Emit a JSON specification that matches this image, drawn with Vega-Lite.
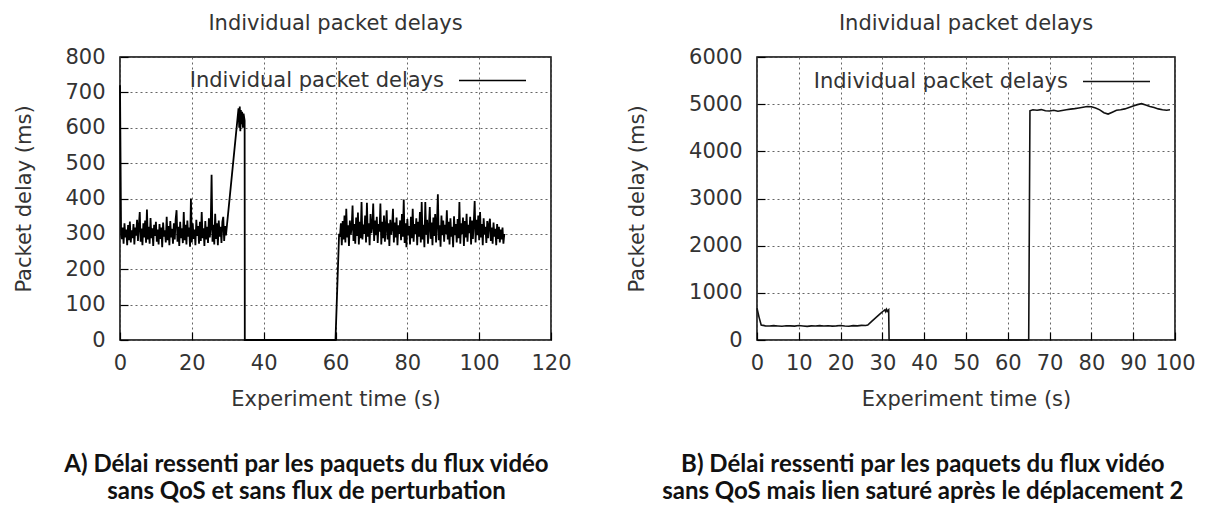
{
  "$schema": "https://vega.github.io/schema/vega-lite/v6.json",
  "background": "white",
  "padding": {"left": 13, "top": 12, "right": 5, "bottom": 5},
  "config": {
    "font": "DejaVu Sans",
    "view": {"stroke": "#000", "strokeWidth": 1.5},
    "axis": {
      "labelFontSize": 21, "titleFontSize": 21, "labelColor": "#333", "titleColor": "#333",
      "titleFontWeight": "normal", "grid": true, "gridDash": [2, 3], "gridColor": "#555",
      "gridOpacity": 0.9, "gridWidth": 1, "domain": false, "tickColor": "#000", "tickSize": -8, "tickWidth": 1.2,
      "labelOverlap": false, "labelFlush": false, "format": "d"
    },
    "axisX": {"labelPadding": 20, "titlePadding": 15},
    "axisY": {"labelPadding": 23, "titlePadding": 30},
    "title": {"fontSize": 21, "fontWeight": "normal", "color": "#333", "offset": 12},
    "concat": {"spacing": 53},
    "legend": {
      "orient": "none", "padding": 0, "labelFontSize": 21, "labelColor": "#333", "labelLimit": 0,
      "symbolType": "stroke", "symbolSize": 4489, "symbolStrokeWidth": 1.5, "labelAlign": "right", "labelOffset": -83
    }
  },
  "resolve": {"scale": {"color": "independent"}, "legend": {"color": "independent"}},
  "datasets": {
    "a": [
      {"t": 0, "d": 720}, {"t": 0.3, "d": 300},
      {"t": 0.5, "d": 285}, {"t": 0.75, "d": 318}, {"t": 1.0, "d": 272}, {"t": 1.25, "d": 330},
      {"t": 1.5, "d": 290}, {"t": 1.75, "d": 312}, {"t": 2.0, "d": 268}, {"t": 2.25, "d": 325},
      {"t": 2.5, "d": 282}, {"t": 2.75, "d": 335}, {"t": 3.0, "d": 276}, {"t": 3.25, "d": 310},
      {"t": 3.5, "d": 288}, {"t": 3.75, "d": 328}, {"t": 4.0, "d": 270}, {"t": 4.25, "d": 318},
      {"t": 4.5, "d": 295}, {"t": 4.75, "d": 340}, {"t": 5.0, "d": 280}, {"t": 5.25, "d": 322},
      {"t": 5.5, "d": 362}, {"t": 5.75, "d": 278}, {"t": 6.0, "d": 315}, {"t": 6.25, "d": 268},
      {"t": 6.5, "d": 330}, {"t": 6.75, "d": 290}, {"t": 7.0, "d": 338}, {"t": 7.25, "d": 275},
      {"t": 7.5, "d": 369}, {"t": 7.75, "d": 284}, {"t": 8.0, "d": 320}, {"t": 8.25, "d": 272},
      {"t": 8.5, "d": 345}, {"t": 8.75, "d": 288}, {"t": 9.0, "d": 316}, {"t": 9.25, "d": 266},
      {"t": 9.5, "d": 326}, {"t": 9.75, "d": 294}, {"t": 10.0, "d": 334}, {"t": 10.25, "d": 278},
      {"t": 10.5, "d": 312}, {"t": 10.75, "d": 270}, {"t": 11.0, "d": 328}, {"t": 11.25, "d": 286},
      {"t": 11.5, "d": 318}, {"t": 11.75, "d": 262}, {"t": 12.0, "d": 332}, {"t": 12.25, "d": 292},
      {"t": 12.5, "d": 310}, {"t": 12.75, "d": 276}, {"t": 13.0, "d": 348}, {"t": 13.25, "d": 282},
      {"t": 13.5, "d": 322}, {"t": 13.75, "d": 268}, {"t": 14.0, "d": 336}, {"t": 14.25, "d": 290},
      {"t": 14.5, "d": 314}, {"t": 14.75, "d": 272}, {"t": 15.0, "d": 330}, {"t": 15.25, "d": 284},
      {"t": 15.5, "d": 342}, {"t": 15.75, "d": 367}, {"t": 16.0, "d": 278}, {"t": 16.25, "d": 320},
      {"t": 16.5, "d": 266}, {"t": 16.75, "d": 334}, {"t": 17.0, "d": 288}, {"t": 17.25, "d": 316},
      {"t": 17.5, "d": 274}, {"t": 17.75, "d": 362}, {"t": 18.0, "d": 282}, {"t": 18.25, "d": 326},
      {"t": 18.5, "d": 270}, {"t": 18.75, "d": 338}, {"t": 19.0, "d": 292}, {"t": 19.25, "d": 318},
      {"t": 19.5, "d": 264}, {"t": 19.75, "d": 400}, {"t": 20.0, "d": 276}, {"t": 20.25, "d": 330},
      {"t": 20.5, "d": 286}, {"t": 20.75, "d": 312}, {"t": 21.0, "d": 268}, {"t": 21.25, "d": 340},
      {"t": 21.5, "d": 294}, {"t": 21.75, "d": 322}, {"t": 22.0, "d": 272}, {"t": 22.25, "d": 334},
      {"t": 22.5, "d": 280}, {"t": 22.75, "d": 362}, {"t": 23.0, "d": 288}, {"t": 23.25, "d": 316},
      {"t": 23.5, "d": 266}, {"t": 23.75, "d": 336}, {"t": 24.0, "d": 284}, {"t": 24.25, "d": 320},
      {"t": 24.5, "d": 274}, {"t": 24.75, "d": 344}, {"t": 25.0, "d": 290}, {"t": 25.25, "d": 318},
      {"t": 25.5, "d": 467}, {"t": 25.75, "d": 278}, {"t": 26.0, "d": 326}, {"t": 26.25, "d": 270},
      {"t": 26.5, "d": 357}, {"t": 26.75, "d": 286}, {"t": 27.0, "d": 330}, {"t": 27.25, "d": 268},
      {"t": 27.5, "d": 338}, {"t": 27.75, "d": 292}, {"t": 28.0, "d": 320}, {"t": 28.25, "d": 274},
      {"t": 28.5, "d": 334}, {"t": 28.75, "d": 348}, {"t": 29.0, "d": 280}, {"t": 29.25, "d": 322},
      {"t": 29.5, "d": 296},
      {"t": 33.0, "d": 655}, {"t": 33.2, "d": 600}, {"t": 33.35, "d": 660}, {"t": 33.5, "d": 590},
      {"t": 33.65, "d": 650}, {"t": 33.8, "d": 610}, {"t": 34.0, "d": 645}, {"t": 34.2, "d": 600},
      {"t": 34.4, "d": 640}, {"t": 34.7, "d": 620}, {"t": 34.75, "d": 0}, {"t": 60.0, "d": 0},
      {"t": 61.0, "d": 300},
      {"t": 61.25, "d": 292}, {"t": 61.5, "d": 330}, {"t": 61.75, "d": 268}, {"t": 62.0, "d": 336},
      {"t": 62.25, "d": 284}, {"t": 62.5, "d": 352}, {"t": 62.75, "d": 276}, {"t": 63.0, "d": 371},
      {"t": 63.25, "d": 290}, {"t": 63.5, "d": 324}, {"t": 63.75, "d": 266}, {"t": 64.0, "d": 338},
      {"t": 64.25, "d": 298}, {"t": 64.5, "d": 318}, {"t": 64.75, "d": 380}, {"t": 65.0, "d": 280},
      {"t": 65.25, "d": 328}, {"t": 65.5, "d": 272}, {"t": 65.75, "d": 346}, {"t": 66.0, "d": 294},
      {"t": 66.25, "d": 360}, {"t": 66.5, "d": 270}, {"t": 66.75, "d": 334}, {"t": 67.0, "d": 288},
      {"t": 67.25, "d": 390}, {"t": 67.5, "d": 284}, {"t": 67.75, "d": 326}, {"t": 68.0, "d": 300},
      {"t": 68.25, "d": 352}, {"t": 68.5, "d": 276}, {"t": 68.75, "d": 388}, {"t": 69.0, "d": 292},
      {"t": 69.25, "d": 330}, {"t": 69.5, "d": 268}, {"t": 69.75, "d": 356}, {"t": 70.0, "d": 302},
      {"t": 70.25, "d": 322}, {"t": 70.5, "d": 386}, {"t": 70.75, "d": 280}, {"t": 71.0, "d": 338},
      {"t": 71.25, "d": 296}, {"t": 71.5, "d": 348}, {"t": 71.75, "d": 274}, {"t": 72.0, "d": 328},
      {"t": 72.25, "d": 306}, {"t": 72.5, "d": 386}, {"t": 72.75, "d": 270}, {"t": 73.0, "d": 334},
      {"t": 73.25, "d": 288}, {"t": 73.5, "d": 352}, {"t": 73.75, "d": 278}, {"t": 74.0, "d": 320},
      {"t": 74.25, "d": 367}, {"t": 74.5, "d": 284}, {"t": 74.75, "d": 330}, {"t": 75.0, "d": 266},
      {"t": 75.25, "d": 340}, {"t": 75.5, "d": 298}, {"t": 75.75, "d": 318}, {"t": 76.0, "d": 371},
      {"t": 76.25, "d": 276}, {"t": 76.5, "d": 332}, {"t": 76.75, "d": 290}, {"t": 77.0, "d": 346},
      {"t": 77.25, "d": 268}, {"t": 77.5, "d": 324}, {"t": 77.75, "d": 300}, {"t": 78.0, "d": 338},
      {"t": 78.25, "d": 282}, {"t": 78.5, "d": 356}, {"t": 78.75, "d": 292}, {"t": 79.0, "d": 397},
      {"t": 79.25, "d": 274}, {"t": 79.5, "d": 330}, {"t": 79.75, "d": 262}, {"t": 80.0, "d": 342},
      {"t": 80.25, "d": 296}, {"t": 80.5, "d": 322}, {"t": 80.75, "d": 270}, {"t": 81.0, "d": 348},
      {"t": 81.25, "d": 288}, {"t": 81.5, "d": 371}, {"t": 81.75, "d": 278}, {"t": 82.0, "d": 328},
      {"t": 82.25, "d": 300}, {"t": 82.5, "d": 344}, {"t": 82.75, "d": 268}, {"t": 83.0, "d": 334},
      {"t": 83.25, "d": 292}, {"t": 83.5, "d": 362}, {"t": 83.75, "d": 276}, {"t": 84.0, "d": 390},
      {"t": 84.25, "d": 284}, {"t": 84.5, "d": 326}, {"t": 84.75, "d": 262}, {"t": 85.0, "d": 390},
      {"t": 85.25, "d": 298}, {"t": 85.5, "d": 340}, {"t": 85.75, "d": 272}, {"t": 86.0, "d": 320},
      {"t": 86.25, "d": 376}, {"t": 86.5, "d": 286}, {"t": 86.75, "d": 332}, {"t": 87.0, "d": 268},
      {"t": 87.25, "d": 346}, {"t": 87.5, "d": 294}, {"t": 87.75, "d": 356}, {"t": 88.0, "d": 276},
      {"t": 88.25, "d": 330}, {"t": 88.5, "d": 412}, {"t": 88.75, "d": 282}, {"t": 89.0, "d": 324},
      {"t": 89.25, "d": 264}, {"t": 89.5, "d": 352}, {"t": 89.75, "d": 296}, {"t": 90.0, "d": 338},
      {"t": 90.25, "d": 278}, {"t": 90.5, "d": 326}, {"t": 90.75, "d": 300}, {"t": 91.0, "d": 367},
      {"t": 91.25, "d": 284}, {"t": 91.5, "d": 334}, {"t": 91.75, "d": 270}, {"t": 92.0, "d": 344},
      {"t": 92.25, "d": 292}, {"t": 92.5, "d": 320}, {"t": 92.75, "d": 262}, {"t": 93.0, "d": 350},
      {"t": 93.25, "d": 296}, {"t": 93.5, "d": 328}, {"t": 93.75, "d": 276}, {"t": 94.0, "d": 342},
      {"t": 94.25, "d": 288}, {"t": 94.5, "d": 390}, {"t": 94.75, "d": 272}, {"t": 95.0, "d": 330},
      {"t": 95.25, "d": 300}, {"t": 95.5, "d": 346}, {"t": 95.75, "d": 266}, {"t": 96.0, "d": 336},
      {"t": 96.25, "d": 290}, {"t": 96.5, "d": 357}, {"t": 96.75, "d": 278}, {"t": 97.0, "d": 326},
      {"t": 97.25, "d": 302}, {"t": 97.5, "d": 348}, {"t": 97.75, "d": 270}, {"t": 98.0, "d": 338},
      {"t": 98.25, "d": 286}, {"t": 98.5, "d": 332}, {"t": 98.75, "d": 393}, {"t": 99.0, "d": 276},
      {"t": 99.25, "d": 340}, {"t": 99.5, "d": 296}, {"t": 99.75, "d": 352}, {"t": 100.0, "d": 282},
      {"t": 100.25, "d": 362}, {"t": 100.5, "d": 290}, {"t": 100.75, "d": 328}, {"t": 101.0, "d": 268},
      {"t": 101.25, "d": 344}, {"t": 101.5, "d": 298}, {"t": 101.75, "d": 320}, {"t": 102.0, "d": 274},
      {"t": 102.25, "d": 336}, {"t": 102.5, "d": 288}, {"t": 102.75, "d": 326}, {"t": 103.0, "d": 343},
      {"t": 103.25, "d": 280}, {"t": 103.5, "d": 318}, {"t": 103.75, "d": 272}, {"t": 104.0, "d": 332},
      {"t": 104.25, "d": 292}, {"t": 104.5, "d": 314}, {"t": 104.75, "d": 268}, {"t": 105.0, "d": 328},
      {"t": 105.25, "d": 286}, {"t": 105.5, "d": 320}, {"t": 105.75, "d": 276}, {"t": 106.0, "d": 312},
      {"t": 106.25, "d": 284}, {"t": 106.5, "d": 318}, {"t": 106.75, "d": 272}, {"t": 107.0, "d": 300}
    ],
    "b": [
      {"t": 0, "d": 674}, {"t": 0.5, "d": 480}, {"t": 1.0, "d": 319}, {"t": 2, "d": 300},
      {"t": 3, "d": 296}, {"t": 4, "d": 304}, {"t": 5, "d": 298}, {"t": 6, "d": 292},
      {"t": 7, "d": 302}, {"t": 8, "d": 300}, {"t": 9, "d": 295}, {"t": 10, "d": 306},
      {"t": 11, "d": 298}, {"t": 12, "d": 290}, {"t": 13, "d": 300}, {"t": 14, "d": 296},
      {"t": 15, "d": 304}, {"t": 16, "d": 298}, {"t": 17, "d": 302}, {"t": 18, "d": 294},
      {"t": 19, "d": 300}, {"t": 20, "d": 308}, {"t": 21, "d": 298}, {"t": 22, "d": 292},
      {"t": 23, "d": 304}, {"t": 24, "d": 300}, {"t": 25, "d": 310}, {"t": 26, "d": 306},
      {"t": 26.5, "d": 318}, {"t": 27.5, "d": 400}, {"t": 28.5, "d": 480}, {"t": 29.5, "d": 560},
      {"t": 30.3, "d": 620}, {"t": 30.6, "d": 640}, {"t": 30.8, "d": 600}, {"t": 31.0, "d": 650},
      {"t": 31.2, "d": 610}, {"t": 31.5, "d": 640}, {"t": 31.6, "d": 0}, {"t": 65.0, "d": 0},
      {"t": 65.3, "d": 4860}, {"t": 66, "d": 4880}, {"t": 67, "d": 4870}, {"t": 68, "d": 4885},
      {"t": 69, "d": 4860}, {"t": 70, "d": 4855}, {"t": 71, "d": 4870}, {"t": 72, "d": 4850},
      {"t": 73, "d": 4865}, {"t": 74, "d": 4880}, {"t": 75, "d": 4895}, {"t": 76, "d": 4905},
      {"t": 77, "d": 4920}, {"t": 78, "d": 4935}, {"t": 79, "d": 4950}, {"t": 80, "d": 4945},
      {"t": 81, "d": 4920}, {"t": 82, "d": 4880}, {"t": 83, "d": 4820}, {"t": 84, "d": 4790},
      {"t": 85, "d": 4830}, {"t": 86, "d": 4870}, {"t": 87, "d": 4880}, {"t": 88, "d": 4900},
      {"t": 89, "d": 4930}, {"t": 90, "d": 4960}, {"t": 91, "d": 4990}, {"t": 92, "d": 5010},
      {"t": 93, "d": 4980}, {"t": 94, "d": 4950}, {"t": 95, "d": 4930}, {"t": 96, "d": 4900},
      {"t": 97, "d": 4880}, {"t": 98, "d": 4870}, {"t": 98.8, "d": 4880}
    ]
  },
  "hconcat": [
    {
      "title": {
        "text": ["A) Délai ressenti par les paquets du flux vidéo", "sans QoS et sans flux de perturbation"],
        "orient": "bottom", "frame": "bounds", "anchor": "middle", "font": "Lato", "fontWeight": "bold",
        "fontSize": 24, "lineHeight": 27, "offset": 43, "color": "#111", "dx": 14
      },
      "vconcat": [
        {
          "title": {"text": "Individual packet delays"},
          "width": 431, "height": 283,
          "data": {"name": "a"},
          "mark": {"type": "line", "strokeWidth": 1.8, "interpolate": "linear"},
          "encoding": {
            "x": {"field": "t", "type": "quantitative", "scale": {"domain": [0, 120], "nice": false},
                  "axis": {"values": [0, 20, 40, 60, 80, 100, 120], "title": "Experiment time (s)"}},
            "y": {"field": "d", "type": "quantitative", "scale": {"domain": [0, 800], "nice": false},
                  "axis": {"values": [0, 100, 200, 300, 400, 500, 600, 700, 800], "title": "Packet delay (ms)"}},
            "color": {"datum": "Individual packet delays", "scale": {"range": ["#000"]},
                      "legend": {"title": null, "legendX": 338, "legendY": -11}}
          }
        }
      ]
    },
    {
      "title": {
        "text": ["B) Délai ressenti par les paquets du flux vidéo", "sans QoS mais lien saturé après le déplacement 2"],
        "orient": "bottom", "frame": "bounds", "anchor": "middle", "font": "Lato", "fontWeight": "bold",
        "fontSize": 24, "lineHeight": 27, "offset": 43, "color": "#111", "dx": 12
      },
      "vconcat": [
        {
          "title": {"text": "Individual packet delays"},
          "width": 418, "height": 283,
          "data": {"name": "b"},
          "mark": {"type": "line", "strokeWidth": 1.6, "interpolate": "linear"},
          "encoding": {
            "x": {"field": "t", "type": "quantitative", "scale": {"domain": [0, 100], "nice": false},
                  "axis": {"values": [0, 10, 20, 30, 40, 50, 60, 70, 80, 90, 100], "title": "Experiment time (s)"}},
            "y": {"field": "d", "type": "quantitative", "scale": {"domain": [0, 6000], "nice": false},
                  "axis": {"values": [0, 1000, 2000, 3000, 4000, 5000, 6000], "title": "Packet delay (ms)", "titlePadding": 41}},
            "color": {"datum": "Individual packet delays", "scale": {"range": ["#111"]},
                      "legend": {"title": null, "legendX": 325, "legendY": -10}}
          }
        }
      ]
    }
  ]
}
